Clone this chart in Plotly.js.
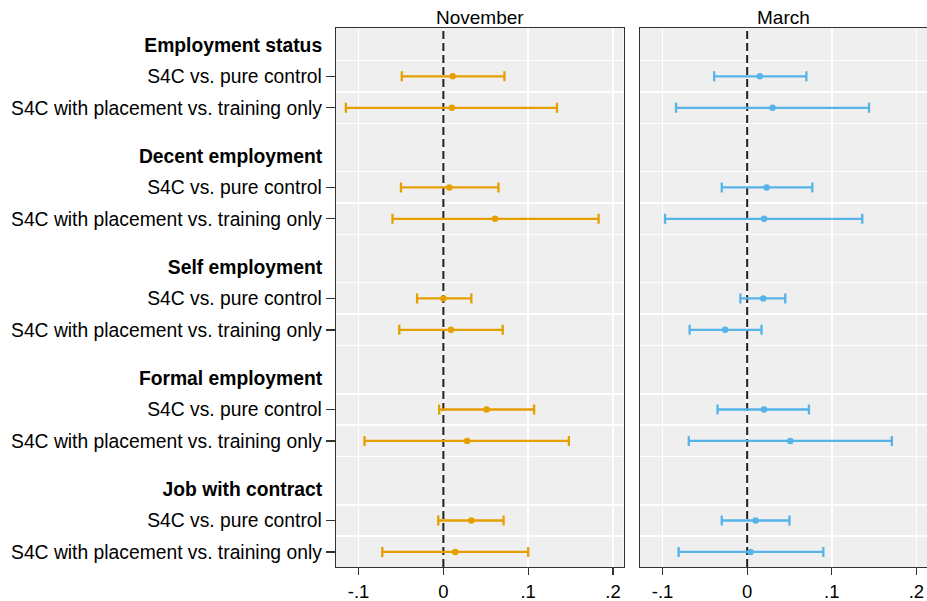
<!DOCTYPE html>
<html>
<head>
<meta charset="utf-8">
<script src="https://cdn.plot.ly/plotly-3.0.1.min.js"></script>
<style>html,body{margin:0;padding:0;background:#fff;}#chart{width:927px;height:601px;}</style>
</head>
<body>
<div id="chart"></div>
<script>
// ---- data ----
var groups = ["Employment status", "Decent employment", "Self employment", "Formal employment", "Job with contract"];
var items = ["S4C vs. pure control", "S4C with placement vs. training only"];

// November estimates (per group: [pure control, placement vs training])
var novPoint = [0.011, 0.010, 0.007, 0.061, 0.000, 0.009, 0.051, 0.028, 0.033, 0.014];
var novLow   = [-0.049, -0.115, -0.050, -0.060, -0.031, -0.052, -0.005, -0.093, -0.006, -0.072];
var novHigh  = [0.072, 0.134, 0.065, 0.183, 0.033, 0.070, 0.107, 0.148, 0.071, 0.100];

// March estimates
var marPoint = [0.015, 0.030, 0.023, 0.020, 0.019, -0.026, 0.020, 0.051, 0.010, 0.004];
var marLow   = [-0.039, -0.084, -0.030, -0.097, -0.008, -0.068, -0.035, -0.069, -0.030, -0.081];
var marHigh  = [0.070, 0.144, 0.077, 0.136, 0.045, 0.017, 0.073, 0.171, 0.050, 0.090];

var xTickVals = [-0.1, 0, 0.1, 0.2];
var xTickText = ["-.1", "0", ".1", ".2"];
var panelTitles = ["November", "March"];
var refLine = 0;

// ---- layout helpers ----
var PERIOD = 3.535;
var headerPos = [], itemPos = [], itemText = [], headerText = [], gridPos = [];
groups.forEach(function (g, gi) {
  headerPos.push(gi * PERIOD);
  headerText.push("<b>" + g + "</b>");
  items.forEach(function (it, k) {
    var p = gi * PERIOD + k + 1;
    itemPos.push(p);
    itemText.push(it);
    gridPos.push(p - 0.5);
    if (k === items.length - 1) gridPos.push(p + 0.5);
  });
});
var yRange = [headerPos[headerPos.length - 1] + 2 + 0.48, -0.54];
var xRange = [-0.1266, 0.2125];

var orange = "#E69F00", blue = "#56B4E9";
var font = "Liberation Sans, Arial, Helvetica, sans-serif";

function minus(p, lo) { return p.map(function (v, i) { return v - lo[i]; }); }
function plus(p, hi) { return p.map(function (v, i) { return hi[i] - v; }); }

function ciTrace(pt, lo, hi, color, xa, ya) {
  return {
    type: "scatter", mode: "markers", x: pt, y: itemPos, xaxis: xa, yaxis: ya,
    marker: { color: color, size: 6.5, symbol: "circle" },
    error_x: { type: "data", symmetric: false, array: plus(pt, hi), arrayminus: minus(pt, lo),
               color: color, thickness: 2.3, width: 5 },
    showlegend: false, hoverinfo: "skip", cliponaxis: false
  };
}
function refTrace(xa, ya) {
  return {
    type: "scatter", mode: "lines", x: [refLine, refLine], y: yRange, xaxis: xa, yaxis: ya,
    line: { color: "#222", width: 2, dash: "8px,4px" }, showlegend: false, hoverinfo: "skip"
  };
}

var data = [
  refTrace("x", "y"),
  refTrace("x2", "y2"),
  ciTrace(novPoint, novLow, novHigh, orange, "x", "y"),
  ciTrace(marPoint, marLow, marHigh, blue, "x2", "y2"),
  { type: "scatter", mode: "markers", x: [null], y: [null], xaxis: "x", yaxis: "y3",
    showlegend: false, hoverinfo: "skip", marker: { opacity: 0 } }
];

var lineCol = "#333";
function xAxis(domain, anchor) {
  return {
    domain: domain, anchor: anchor, range: xRange, tickmode: "array",
    tickvals: xTickVals, ticktext: xTickText, ticks: "outside", ticklen: 7, tickwidth: 1.3,
    tickcolor: lineCol, showgrid: true, gridcolor: "#ffffff", gridwidth: 1.5, zeroline: false,
    showline: true, mirror: true, linecolor: lineCol, linewidth: 1.3,
    tickfont: { family: font, size: 18.5, color: "#000" }, fixedrange: true
  };
}
function yAxisBase(anchor) {
  return {
    anchor: anchor, range: yRange, tickmode: "array", showgrid: false, zeroline: false,
    showline: true, mirror: true, linecolor: lineCol, linewidth: 1.3,
    minor: { tickmode: "array", tickvals: gridPos, showgrid: true, gridcolor: "#ffffff", gridwidth: 1.5, ticks: "" },
    fixedrange: true
  };
}

var y1 = yAxisBase("x");
y1.tickvals = itemPos; y1.ticktext = itemText; y1.ticks = "outside"; y1.ticklen = 9;
y1.tickwidth = 1.3; y1.tickcolor = lineCol;
y1.tickfont = { family: font, size: 19.3, color: "#000" };

var y2 = yAxisBase("x2");
y2.tickvals = itemPos; y2.showticklabels = false; y2.ticks = "";

var y3 = {
  overlaying: "y", anchor: "x", side: "left", range: yRange, tickmode: "array",
  tickvals: headerPos, ticktext: headerText, ticks: "outside", ticklen: 9, tickcolor: "rgba(0,0,0,0)",
  showgrid: false, zeroline: false, showline: false,
  tickfont: { family: font, size: 19.3, color: "#000" }, fixedrange: true
};

var layout = {
  width: 927, height: 601,
  margin: { l: 336, r: 0, t: 28, b: 34 },
  paper_bgcolor: "#ffffff", plot_bgcolor: "#efefef",
  showlegend: false,
  xaxis: xAxis([0, 0.4866], "y"),
  xaxis2: xAxis([0.5144, 1], "y2"),
  yaxis: y1, yaxis2: y2, yaxis3: y3,
  annotations: [
    { text: panelTitles[0], xref: "x domain", yref: "paper", x: 0.5, y: 1, xanchor: "center", yanchor: "bottom",
      showarrow: false, font: { family: font, size: 19, color: "#000" }, yshift: -2 },
    { text: panelTitles[1], xref: "x2 domain", yref: "paper", x: 0.5, y: 1, xanchor: "center", yanchor: "bottom",
      showarrow: false, font: { family: font, size: 19, color: "#000" }, yshift: -2 }
  ]
};

Plotly.newPlot("chart", data, layout, { staticPlot: true, displayModeBar: false });
</script>
</body>
</html>
